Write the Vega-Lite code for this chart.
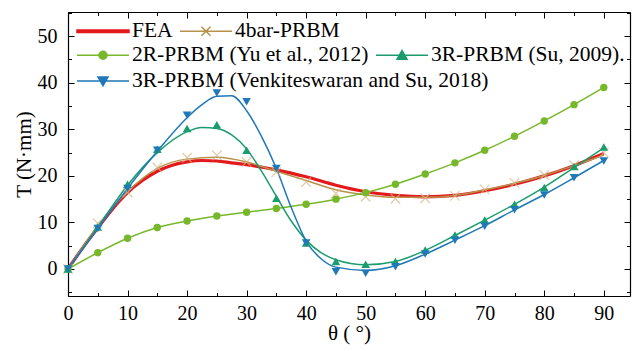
{
  "$schema": "https://vega.github.io/schema/vega-lite/v6.json",
  "width": 562,
  "height": 284,
  "autosize": {"type": "none"},
  "padding": {"left": 68, "top": 12, "right": 3, "bottom": 55},
  "config": {
    "view": {"stroke": null},
    "font": "Liberation Serif, Times New Roman, Times, serif",
    "axis": {
      "grid": false,
      "domainColor": "black",
      "domainWidth": 1.2,
      "tickColor": "black",
      "tickWidth": 1,
      "labelFont": "Liberation Serif, Times New Roman, Times, serif",
      "labelFontSize": 20,
      "labelColor": "black",
      "titleFont": "Liberation Serif, Times New Roman, Times, serif",
      "titleFontSize": 21,
      "titleFontWeight": "normal",
      "titleColor": "black"
    },
    "legend": {
      "labelFont": "Liberation Serif, Times New Roman, Times, serif",
      "labelFontSize": 21.5,
      "labelColor": "black",
      "labelLimit": 600,
      "labelOffset": 2,
      "symbolSize": 400,
      "symbolStrokeWidth": 1.5,
      "symbolOpacity": 1,
      "columnPadding": 4,
      "padding": 0,
      "direction": "horizontal",
      "orient": "none",
      "title": null
    }
  },
  "datasets": {
    "curves": [
      {"s": "FEA", "x": 0, "y": 0}, {"s": "FEA", "x": 2.5, "y": 4.6}, {"s": "FEA", "x": 5, "y": 8.8}, {"s": "FEA", "x": 7.5, "y": 12.9}, {"s": "FEA", "x": 10, "y": 16.4}, {"s": "FEA", "x": 12.5, "y": 19.0}, {"s": "FEA", "x": 15, "y": 21.0}, {"s": "FEA", "x": 17.5, "y": 22.3}, {"s": "FEA", "x": 20, "y": 23.0}, {"s": "FEA", "x": 22.5, "y": 23.3}, {"s": "FEA", "x": 25, "y": 23.2}, {"s": "FEA", "x": 27.5, "y": 22.8}, {"s": "FEA", "x": 30, "y": 22.4}, {"s": "FEA", "x": 35, "y": 21.3}, {"s": "FEA", "x": 40, "y": 19.8}, {"s": "FEA", "x": 45, "y": 18.0}, {"s": "FEA", "x": 50, "y": 16.6}, {"s": "FEA", "x": 55, "y": 15.8}, {"s": "FEA", "x": 60, "y": 15.5}, {"s": "FEA", "x": 65, "y": 15.8}, {"s": "FEA", "x": 70, "y": 16.8}, {"s": "FEA", "x": 75, "y": 18.2}, {"s": "FEA", "x": 80, "y": 20.0}, {"s": "FEA", "x": 85, "y": 22.2}, {"s": "FEA", "x": 90, "y": 24.8},

      {"s": "4bar-PRBM", "x": 0, "y": 0}, {"s": "4bar-PRBM", "x": 5, "y": 9.3}, {"s": "4bar-PRBM", "x": 10, "y": 16.6}, {"s": "4bar-PRBM", "x": 15, "y": 21.6}, {"s": "4bar-PRBM", "x": 20, "y": 23.6}, {"s": "4bar-PRBM", "x": 25, "y": 24.0}, {"s": "4bar-PRBM", "x": 30, "y": 23.0}, {"s": "4bar-PRBM", "x": 35, "y": 21.0}, {"s": "4bar-PRBM", "x": 40, "y": 19.0}, {"s": "4bar-PRBM", "x": 45, "y": 17.0}, {"s": "4bar-PRBM", "x": 50, "y": 15.9}, {"s": "4bar-PRBM", "x": 55, "y": 15.4}, {"s": "4bar-PRBM", "x": 60, "y": 15.4}, {"s": "4bar-PRBM", "x": 65, "y": 15.8}, {"s": "4bar-PRBM", "x": 70, "y": 17.0}, {"s": "4bar-PRBM", "x": 75, "y": 18.4}, {"s": "4bar-PRBM", "x": 80, "y": 20.1}, {"s": "4bar-PRBM", "x": 85, "y": 22.2}, {"s": "4bar-PRBM", "x": 90, "y": 24.5},

      {"s": "2R-PRBM (Yu et al., 2012)", "x": 0, "y": 0}, {"s": "2R-PRBM (Yu et al., 2012)", "x": 5, "y": 3.5}, {"s": "2R-PRBM (Yu et al., 2012)", "x": 10, "y": 6.6}, {"s": "2R-PRBM (Yu et al., 2012)", "x": 15, "y": 8.9}, {"s": "2R-PRBM (Yu et al., 2012)", "x": 20, "y": 10.3}, {"s": "2R-PRBM (Yu et al., 2012)", "x": 25, "y": 11.4}, {"s": "2R-PRBM (Yu et al., 2012)", "x": 30, "y": 12.2}, {"s": "2R-PRBM (Yu et al., 2012)", "x": 35, "y": 13.0}, {"s": "2R-PRBM (Yu et al., 2012)", "x": 40, "y": 13.9}, {"s": "2R-PRBM (Yu et al., 2012)", "x": 45, "y": 15.0}, {"s": "2R-PRBM (Yu et al., 2012)", "x": 50, "y": 16.4}, {"s": "2R-PRBM (Yu et al., 2012)", "x": 55, "y": 18.2}, {"s": "2R-PRBM (Yu et al., 2012)", "x": 60, "y": 20.4}, {"s": "2R-PRBM (Yu et al., 2012)", "x": 65, "y": 22.8}, {"s": "2R-PRBM (Yu et al., 2012)", "x": 70, "y": 25.5}, {"s": "2R-PRBM (Yu et al., 2012)", "x": 75, "y": 28.5}, {"s": "2R-PRBM (Yu et al., 2012)", "x": 80, "y": 31.8}, {"s": "2R-PRBM (Yu et al., 2012)", "x": 85, "y": 35.3}, {"s": "2R-PRBM (Yu et al., 2012)", "x": 90, "y": 39.0},

      {"s": "3R-PRBM (Su, 2009).", "x": 0, "y": 0}, {"s": "3R-PRBM (Su, 2009).", "x": 5, "y": 9.0}, {"s": "3R-PRBM (Su, 2009).", "x": 10, "y": 18.0}, {"s": "3R-PRBM (Su, 2009).", "x": 15, "y": 25.0}, {"s": "3R-PRBM (Su, 2009).", "x": 20, "y": 29.5}, {"s": "3R-PRBM (Su, 2009).", "x": 22.5, "y": 30.4}, {"s": "3R-PRBM (Su, 2009).", "x": 25, "y": 30.2}, {"s": "3R-PRBM (Su, 2009).", "x": 27.5, "y": 28.8}, {"s": "3R-PRBM (Su, 2009).", "x": 30, "y": 25.8}, {"s": "3R-PRBM (Su, 2009).", "x": 32.5, "y": 21.0}, {"s": "3R-PRBM (Su, 2009).", "x": 35, "y": 15.6}, {"s": "3R-PRBM (Su, 2009).", "x": 37.5, "y": 10.3}, {"s": "3R-PRBM (Su, 2009).", "x": 40, "y": 6.2}, {"s": "3R-PRBM (Su, 2009).", "x": 42.5, "y": 3.5}, {"s": "3R-PRBM (Su, 2009).", "x": 45, "y": 2.0}, {"s": "3R-PRBM (Su, 2009).", "x": 50, "y": 0.9}, {"s": "3R-PRBM (Su, 2009).", "x": 55, "y": 1.6}, {"s": "3R-PRBM (Su, 2009).", "x": 60, "y": 4.0}, {"s": "3R-PRBM (Su, 2009).", "x": 65, "y": 7.2}, {"s": "3R-PRBM (Su, 2009).", "x": 70, "y": 10.5}, {"s": "3R-PRBM (Su, 2009).", "x": 75, "y": 13.9}, {"s": "3R-PRBM (Su, 2009).", "x": 80, "y": 17.6}, {"s": "3R-PRBM (Su, 2009).", "x": 85, "y": 21.8}, {"s": "3R-PRBM (Su, 2009).", "x": 90, "y": 26.0},

      {"s": "3R-PRBM (Venkiteswaran and Su, 2018)", "x": 0, "y": 0}, {"s": "3R-PRBM (Venkiteswaran and Su, 2018)", "x": 5, "y": 8.7}, {"s": "3R-PRBM (Venkiteswaran and Su, 2018)", "x": 10, "y": 17.3}, {"s": "3R-PRBM (Venkiteswaran and Su, 2018)", "x": 15, "y": 25.3}, {"s": "3R-PRBM (Venkiteswaran and Su, 2018)", "x": 20, "y": 32.5}, {"s": "3R-PRBM (Venkiteswaran and Su, 2018)", "x": 22.5, "y": 35.3}, {"s": "3R-PRBM (Venkiteswaran and Su, 2018)", "x": 25, "y": 37.1}, {"s": "3R-PRBM (Venkiteswaran and Su, 2018)", "x": 27.5, "y": 37.2}, {"s": "3R-PRBM (Venkiteswaran and Su, 2018)", "x": 30, "y": 34.0}, {"s": "3R-PRBM (Venkiteswaran and Su, 2018)", "x": 32.5, "y": 28.5}, {"s": "3R-PRBM (Venkiteswaran and Su, 2018)", "x": 35, "y": 21.6}, {"s": "3R-PRBM (Venkiteswaran and Su, 2018)", "x": 37.5, "y": 13.2}, {"s": "3R-PRBM (Venkiteswaran and Su, 2018)", "x": 40, "y": 6.0}, {"s": "3R-PRBM (Venkiteswaran and Su, 2018)", "x": 42.5, "y": 2.2}, {"s": "3R-PRBM (Venkiteswaran and Su, 2018)", "x": 45, "y": 0.4}, {"s": "3R-PRBM (Venkiteswaran and Su, 2018)", "x": 50, "y": -0.3}, {"s": "3R-PRBM (Venkiteswaran and Su, 2018)", "x": 55, "y": 0.7}, {"s": "3R-PRBM (Venkiteswaran and Su, 2018)", "x": 60, "y": 3.2}, {"s": "3R-PRBM (Venkiteswaran and Su, 2018)", "x": 65, "y": 6.2}, {"s": "3R-PRBM (Venkiteswaran and Su, 2018)", "x": 70, "y": 9.3}, {"s": "3R-PRBM (Venkiteswaran and Su, 2018)", "x": 75, "y": 12.7}, {"s": "3R-PRBM (Venkiteswaran and Su, 2018)", "x": 80, "y": 16.0}, {"s": "3R-PRBM (Venkiteswaran and Su, 2018)", "x": 85, "y": 19.6}, {"s": "3R-PRBM (Venkiteswaran and Su, 2018)", "x": 90, "y": 23.3}
    ],
    "markers": [
      {"s": "4bar", "x": 0, "y": 0}, {"s": "4bar", "x": 5, "y": 9.8}, {"s": "4bar", "x": 10, "y": 16.5}, {"s": "4bar", "x": 15, "y": 21.8}, {"s": "4bar", "x": 20, "y": 23.9}, {"s": "4bar", "x": 25, "y": 24.4}, {"s": "4bar", "x": 30, "y": 23.0}, {"s": "4bar", "x": 35, "y": 20.8}, {"s": "4bar", "x": 40, "y": 18.7}, {"s": "4bar", "x": 45, "y": 16.2}, {"s": "4bar", "x": 50, "y": 15.5}, {"s": "4bar", "x": 55, "y": 15.1}, {"s": "4bar", "x": 60, "y": 15.2}, {"s": "4bar", "x": 65, "y": 15.7}, {"s": "4bar", "x": 70, "y": 17.1}, {"s": "4bar", "x": 75, "y": 18.5}, {"s": "4bar", "x": 80, "y": 20.2}, {"s": "4bar", "x": 85, "y": 22.3}, {"s": "4bar", "x": 90, "y": 25.0},
      {"s": "2R", "x": 0, "y": 0}, {"s": "2R", "x": 5, "y": 3.5}, {"s": "2R", "x": 10, "y": 6.6}, {"s": "2R", "x": 15, "y": 8.9}, {"s": "2R", "x": 20, "y": 10.3}, {"s": "2R", "x": 25, "y": 11.4}, {"s": "2R", "x": 30, "y": 12.2}, {"s": "2R", "x": 35, "y": 13.0}, {"s": "2R", "x": 40, "y": 13.9}, {"s": "2R", "x": 45, "y": 15.0}, {"s": "2R", "x": 50, "y": 16.4}, {"s": "2R", "x": 55, "y": 18.2}, {"s": "2R", "x": 60, "y": 20.4}, {"s": "2R", "x": 65, "y": 22.8}, {"s": "2R", "x": 70, "y": 25.5}, {"s": "2R", "x": 75, "y": 28.5}, {"s": "2R", "x": 80, "y": 31.8}, {"s": "2R", "x": 85, "y": 35.3}, {"s": "2R", "x": 90, "y": 39.0},
      {"s": "Su", "x": 0, "y": 0}, {"s": "Su", "x": 5, "y": 9.0}, {"s": "Su", "x": 10, "y": 18.2}, {"s": "Su", "x": 15, "y": 25.7}, {"s": "Su", "x": 20, "y": 30.2}, {"s": "Su", "x": 25, "y": 31.0}, {"s": "Su", "x": 30, "y": 25.5}, {"s": "Su", "x": 35, "y": 15.2}, {"s": "Su", "x": 40, "y": 5.6}, {"s": "Su", "x": 45, "y": 1.6}, {"s": "Su", "x": 50, "y": 1.0}, {"s": "Su", "x": 55, "y": 1.6}, {"s": "Su", "x": 60, "y": 4.1}, {"s": "Su", "x": 65, "y": 7.3}, {"s": "Su", "x": 70, "y": 10.5}, {"s": "Su", "x": 75, "y": 13.9}, {"s": "Su", "x": 80, "y": 17.5}, {"s": "Su", "x": 85, "y": 22.0}, {"s": "Su", "x": 90, "y": 26.2},
      {"s": "Venk", "x": 0, "y": 0}, {"s": "Venk", "x": 5, "y": 8.7}, {"s": "Venk", "x": 10, "y": 17.3}, {"s": "Venk", "x": 15, "y": 25.5}, {"s": "Venk", "x": 20, "y": 33.0}, {"s": "Venk", "x": 25, "y": 37.8}, {"s": "Venk", "x": 30, "y": 35.9}, {"s": "Venk", "x": 35, "y": 21.6}, {"s": "Venk", "x": 40, "y": 5.6}, {"s": "Venk", "x": 45, "y": -0.6}, {"s": "Venk", "x": 50, "y": -0.9}, {"s": "Venk", "x": 55, "y": 0.5}, {"s": "Venk", "x": 60, "y": 3.2}, {"s": "Venk", "x": 65, "y": 6.2}, {"s": "Venk", "x": 70, "y": 9.2}, {"s": "Venk", "x": 75, "y": 12.7}, {"s": "Venk", "x": 80, "y": 15.9}, {"s": "Venk", "x": 85, "y": 19.6}, {"s": "Venk", "x": 90, "y": 23.2}
    ],
    "legendrows": [
      {"row": 1, "s": "FEA"}, {"row": 1, "s": "4bar-PRBM"},
      {"row": 2, "s": "2R-PRBM (Yu et al., 2012)"}, {"row": 2, "s": "3R-PRBM (Su, 2009)."},
      {"row": 3, "s": "3R-PRBM (Venkiteswaran and Su, 2018)"}
    ]
  },
  "layer": [
    {
      "data": {"name": "curves"},
      "transform": [{"filter": "datum.s === 'FEA'"}],
      "mark": {"type": "line", "interpolate": "monotone", "color": "#e3191c", "strokeWidth": 3.2},
      "encoding": {
        "x": {"field": "x", "type": "quantitative", "scale": {"domain": [0, 94.4], "nice": false, "zero": false},
          "axis": {"orient": "bottom", "values": [0,5,10,15,20,25,30,35,40,45,50,55,60,65,70,75,80,85,90],
            "labelExpr": "datum.value % 10 === 0 ? datum.label : ''",
            "tickSize": {"condition": {"test": "datum.value % 10 === 0", "value": -6}, "value": -3.5},
            "labelPadding": 13, "labelFlush": false, "labelOverlap": false,
            "title": "θ ( °)", "titlePadding": -3}},
        "y": {"field": "y", "type": "quantitative", "scale": {"domain": [-5.8, 55.2], "nice": false, "zero": false},
          "axis": {"orient": "left", "values": [-5,0,5,10,15,20,25,30,35,40,45,50,55],
            "labelExpr": "datum.value % 10 === 0 && datum.value >= 0 && datum.value <= 50 ? datum.label : ''",
            "tickSize": {"condition": {"test": "datum.value % 10 === 0", "value": -6}, "value": -3.5},
            "labelPadding": 17, "labelFlush": false, "labelOverlap": false,
            "title": "T (N·mm)", "titlePadding": 3}},
        "detail": {"field": "s"}
      }
    },
    {
      "data": {"name": "curves"},
      "transform": [{"filter": "datum.s !== 'FEA'"}],
      "mark": {"type": "line", "interpolate": "monotone", "strokeWidth": 1.5},
      "encoding": {
        "x": {"field": "x", "type": "quantitative",
          "axis": {"orient": "top", "values": [0,5,10,15,20,25,30,35,40,45,50,55,60,65,70,75,80,85,90],
            "labels": false, "title": null,
            "tickSize": {"condition": {"test": "datum.value % 10 === 0", "value": -6}, "value": -3.5}}},
        "y": {"field": "y", "type": "quantitative",
          "axis": {"orient": "right", "values": [-5,0,5,10,15,20,25,30,35,40,45,50,55],
            "labels": false, "title": null,
            "tickSize": {"condition": {"test": "datum.value % 10 === 0", "value": -6}, "value": -3.5}}},
        "color": {"field": "s", "type": "nominal", "legend": null,
          "scale": {"domain": ["4bar-PRBM", "2R-PRBM (Yu et al., 2012)", "3R-PRBM (Su, 2009).", "3R-PRBM (Venkiteswaran and Su, 2018)"],
                    "range": ["#b8924a", "#76b82a", "#1a9c6c", "#1f78b8"]}}
      }
    },
    {
      "data": {"name": "markers"},
      "transform": [{"filter": "datum.s === '4bar'"}],
      "mark": {"type": "point", "shape": "M-1,-1L1,1M-1,1L1,-1", "filled": false, "color": "#d6b887", "strokeWidth": 1.3, "size": 90},
      "encoding": {
        "x": {"field": "x", "type": "quantitative", "axis": null},
        "y": {"field": "y", "type": "quantitative", "axis": null}
      }
    },
    {
      "data": {"name": "markers"},
      "transform": [{"filter": "datum.s === '2R'"}],
      "mark": {"type": "point", "shape": "circle", "filled": true, "color": "#76b82a", "opacity": 1, "size": 55},
      "encoding": {
        "x": {"field": "x", "type": "quantitative", "axis": null},
        "y": {"field": "y", "type": "quantitative", "axis": null}
      }
    },
    {
      "data": {"name": "markers"},
      "transform": [{"filter": "datum.s === 'Su'"}],
      "mark": {"type": "point", "shape": "triangle-up", "filled": true, "color": "#1a9c6c", "opacity": 1, "size": 75},
      "encoding": {
        "x": {"field": "x", "type": "quantitative", "axis": null},
        "y": {"field": "y", "type": "quantitative", "axis": null}
      }
    },
    {
      "data": {"name": "markers"},
      "transform": [{"filter": "datum.s === 'Venk'"}],
      "mark": {"type": "point", "shape": "triangle-down", "filled": true, "color": "#1f78b8", "opacity": 1, "size": 75},
      "encoding": {
        "x": {"field": "x", "type": "quantitative", "axis": null},
        "y": {"field": "y", "type": "quantitative", "axis": null}
      }
    },
    {
      "data": {"name": "legendrows"},
      "transform": [{"filter": "datum.row === 1"}],
      "mark": {"type": "point", "filled": true, "opacity": 0, "size": 400},
      "encoding": {
        "shape": {"field": "s", "type": "nominal",
          "scale": {"domain": ["FEA", "4bar-PRBM"],
                    "range": ["M-4.2,-0.12H1V0.12H-4.2Z", "M-4.2,0H1M-2.05,-0.45L-1.15,0.45M-2.05,0.45L-1.15,-0.45"]},
          "legend": {"legendX": 40, "legendY": 8, "columnPadding": 4}},
        "fill": {"field": "s", "type": "nominal", "scale": {"domain": ["FEA", "4bar-PRBM"], "range": ["#e3191c", "#b8924a"]}},
        "stroke": {"field": "s", "type": "nominal", "scale": {"domain": ["FEA", "4bar-PRBM"], "range": ["#e3191c", "#b8924a"]}}
      }
    },
    {
      "data": {"name": "legendrows"},
      "transform": [{"filter": "datum.row === 2"}],
      "mark": {"type": "point", "filled": true, "opacity": 0, "size": 400},
      "encoding": {
        "shape": {"field": "s", "type": "nominal",
          "scale": {"domain": ["2R-PRBM (Yu et al., 2012)", "3R-PRBM (Su, 2009)."],
                    "range": ["M-4.2,0H1M-2,0A0.4,0.4,0,1,0,-1.2,0A0.4,0.4,0,1,0,-2,0Z", "M-4.2,0H1M-2.1,0.4L-1.1,0.4L-1.6,-0.48Z"]},
          "legend": {"legendX": 40, "legendY": 32, "columnPadding": 4}},
        "fill": {"field": "s", "type": "nominal", "scale": {"domain": ["2R-PRBM (Yu et al., 2012)", "3R-PRBM (Su, 2009)."], "range": ["#76b82a", "#1a9c6c"]}},
        "stroke": {"field": "s", "type": "nominal", "scale": {"domain": ["2R-PRBM (Yu et al., 2012)", "3R-PRBM (Su, 2009)."], "range": ["#76b82a", "#1a9c6c"]}}
      }
    },
    {
      "data": {"name": "legendrows"},
      "transform": [{"filter": "datum.row === 3"}],
      "mark": {"type": "point", "filled": true, "opacity": 0, "size": 400},
      "encoding": {
        "shape": {"field": "s", "type": "nominal",
          "scale": {"domain": ["3R-PRBM (Venkiteswaran and Su, 2018)"],
                    "range": ["M-4.2,0H1M-2.1,-0.4L-1.1,-0.4L-1.6,0.48Z"]},
          "legend": {"legendX": 40, "legendY": 58}},
        "fill": {"field": "s", "type": "nominal", "scale": {"domain": ["3R-PRBM (Venkiteswaran and Su, 2018)"], "range": ["#1f78b8"]}},
        "stroke": {"field": "s", "type": "nominal", "scale": {"domain": ["3R-PRBM (Venkiteswaran and Su, 2018)"], "range": ["#1f78b8"]}}
      }
    }
  ],
  "resolve": {
    "axis": {"x": "independent", "y": "independent"},
    "scale": {"shape": "independent", "fill": "independent", "stroke": "independent"}
  }
}
